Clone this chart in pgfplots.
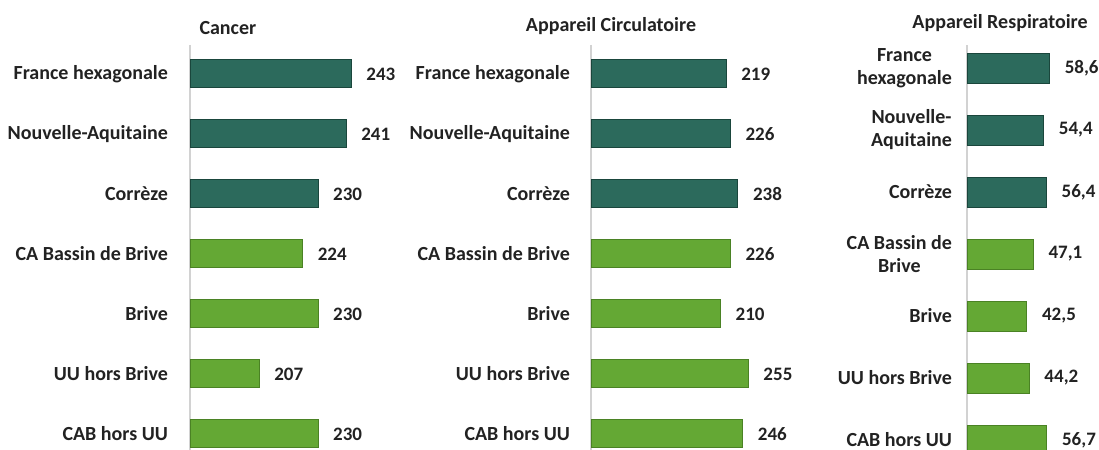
\documentclass[border=0pt]{standalone}
\usepackage{pgfplots}
\pgfplotsset{compat=1.18}
\usepackage{fontspec}
\setmainfont{Carlito}
\definecolor{teal}{RGB}{44,106,92}
\definecolor{tealdark}{RGB}{26,70,60}
\definecolor{leaf}{RGB}{100,168,52}
\definecolor{leafdark}{RGB}{74,130,36}
\definecolor{txt}{RGB}{34,34,34}
\pgfplotsset{
  panel/.style={
    scale only axis, height=202.5pt, anchor=south west,
    xbar, bar width=14pt, bar shift=0pt,
    axis lines=left, axis line style={-},
    x axis line style={draw=none},
    y axis line style={gray!35, line width=0.6pt},
    xtick=\empty, ytick={0,...,6}, y dir=reverse,
    major tick length=0pt,
    yticklabel style={font=\bfseries\fontsize{10}{11.5}\selectfont, text=txt, align=center},
    % every axis title already shifts up by 6pt
    title style={font=\bfseries\fontsize{10}{12}\selectfont, text=txt, anchor=center, yshift=-6.5pt},
    point meta=x, nodes near coords,
    nodes near coords style={font=\bfseries\fontsize{9.5}{11}\selectfont, text=txt, anchor=west, xshift=4pt},
    /pgf/number format/assume math mode=true,
    clip=false,
  },
  dark/.style={fill=teal, draw=tealdark, line width=0.5pt},
  light/.style={fill=leaf, draw=leafdark, line width=0.5pt},
}
\begin{document}
\begin{tikzpicture}
\useasboundingbox (0,0) rectangle (549.5pt,225pt);

% Cancer
\begin{axis}[panel, at={(95pt,0pt)}, width=128pt,
  xmin=180, xmax=280, ymin=-0.483, ymax=6.267,
  yticklabels={France hexagonale, Nouvelle-Aquitaine, Corrèze, CA Bassin de Brive, Brive, UU hors Brive, CAB hors UU},
  yticklabel style={xshift=-7.5pt},
  title={Cancer}, title style={at={(rel axis cs:0.148,1.044)}}]
\addplot[dark] coordinates {(243,0) (241,1) (230,2)};
\addplot[light] coordinates {(224,3) (230,4) (207,5) (230,6)};
\end{axis}

% Appareil circulatoire
\begin{axis}[panel, at={(295.5pt,0pt)}, width=123.4pt,
  xmin=0, xmax=400, ymin=-0.483, ymax=6.267,
  yticklabels={France hexagonale, Nouvelle-Aquitaine, Corrèze, CA Bassin de Brive, Brive, UU hors Brive, CAB hors UU},
  yticklabel style={xshift=-7pt},
  title={Appareil Circulatoire}, title style={at={(rel axis cs:0.081,1.049)}}]
\addplot[dark] coordinates {(219,0) (226,1) (238,2)};
\addplot[light] coordinates {(226,3) (210,4) (255,5) (246,6)};
\end{axis}

% Appareil respiratoire
\begin{axis}[panel, at={(483.5pt,0pt)}, width=56.4pt,
  xmin=0, xmax=80, ymin=-0.371, ymax=6.161, bar width=15pt,
  yticklabels={France\\hexagonale, Nouvelle-\\Aquitaine, Corrèze, CA Bassin de\\Brive, Brive, UU hors Brive, CAB hors UU},
  yticklabel style={xshift=-4pt},
  nodes near coords={\pgfmathprintnumber[fixed,fixed zerofill,precision=1,use comma]{\pgfplotspointmeta}},
  title={Appareil Respiratoire}, title style={at={(rel axis cs:0.293,1.057)}}]
\addplot[dark] coordinates {(58.6,0) (54.4,1) (56.4,2)};
\addplot[light] coordinates {(47.1,3) (42.5,4) (44.2,5) (56.7,6)};
\end{axis}
\end{tikzpicture}
\end{document}
